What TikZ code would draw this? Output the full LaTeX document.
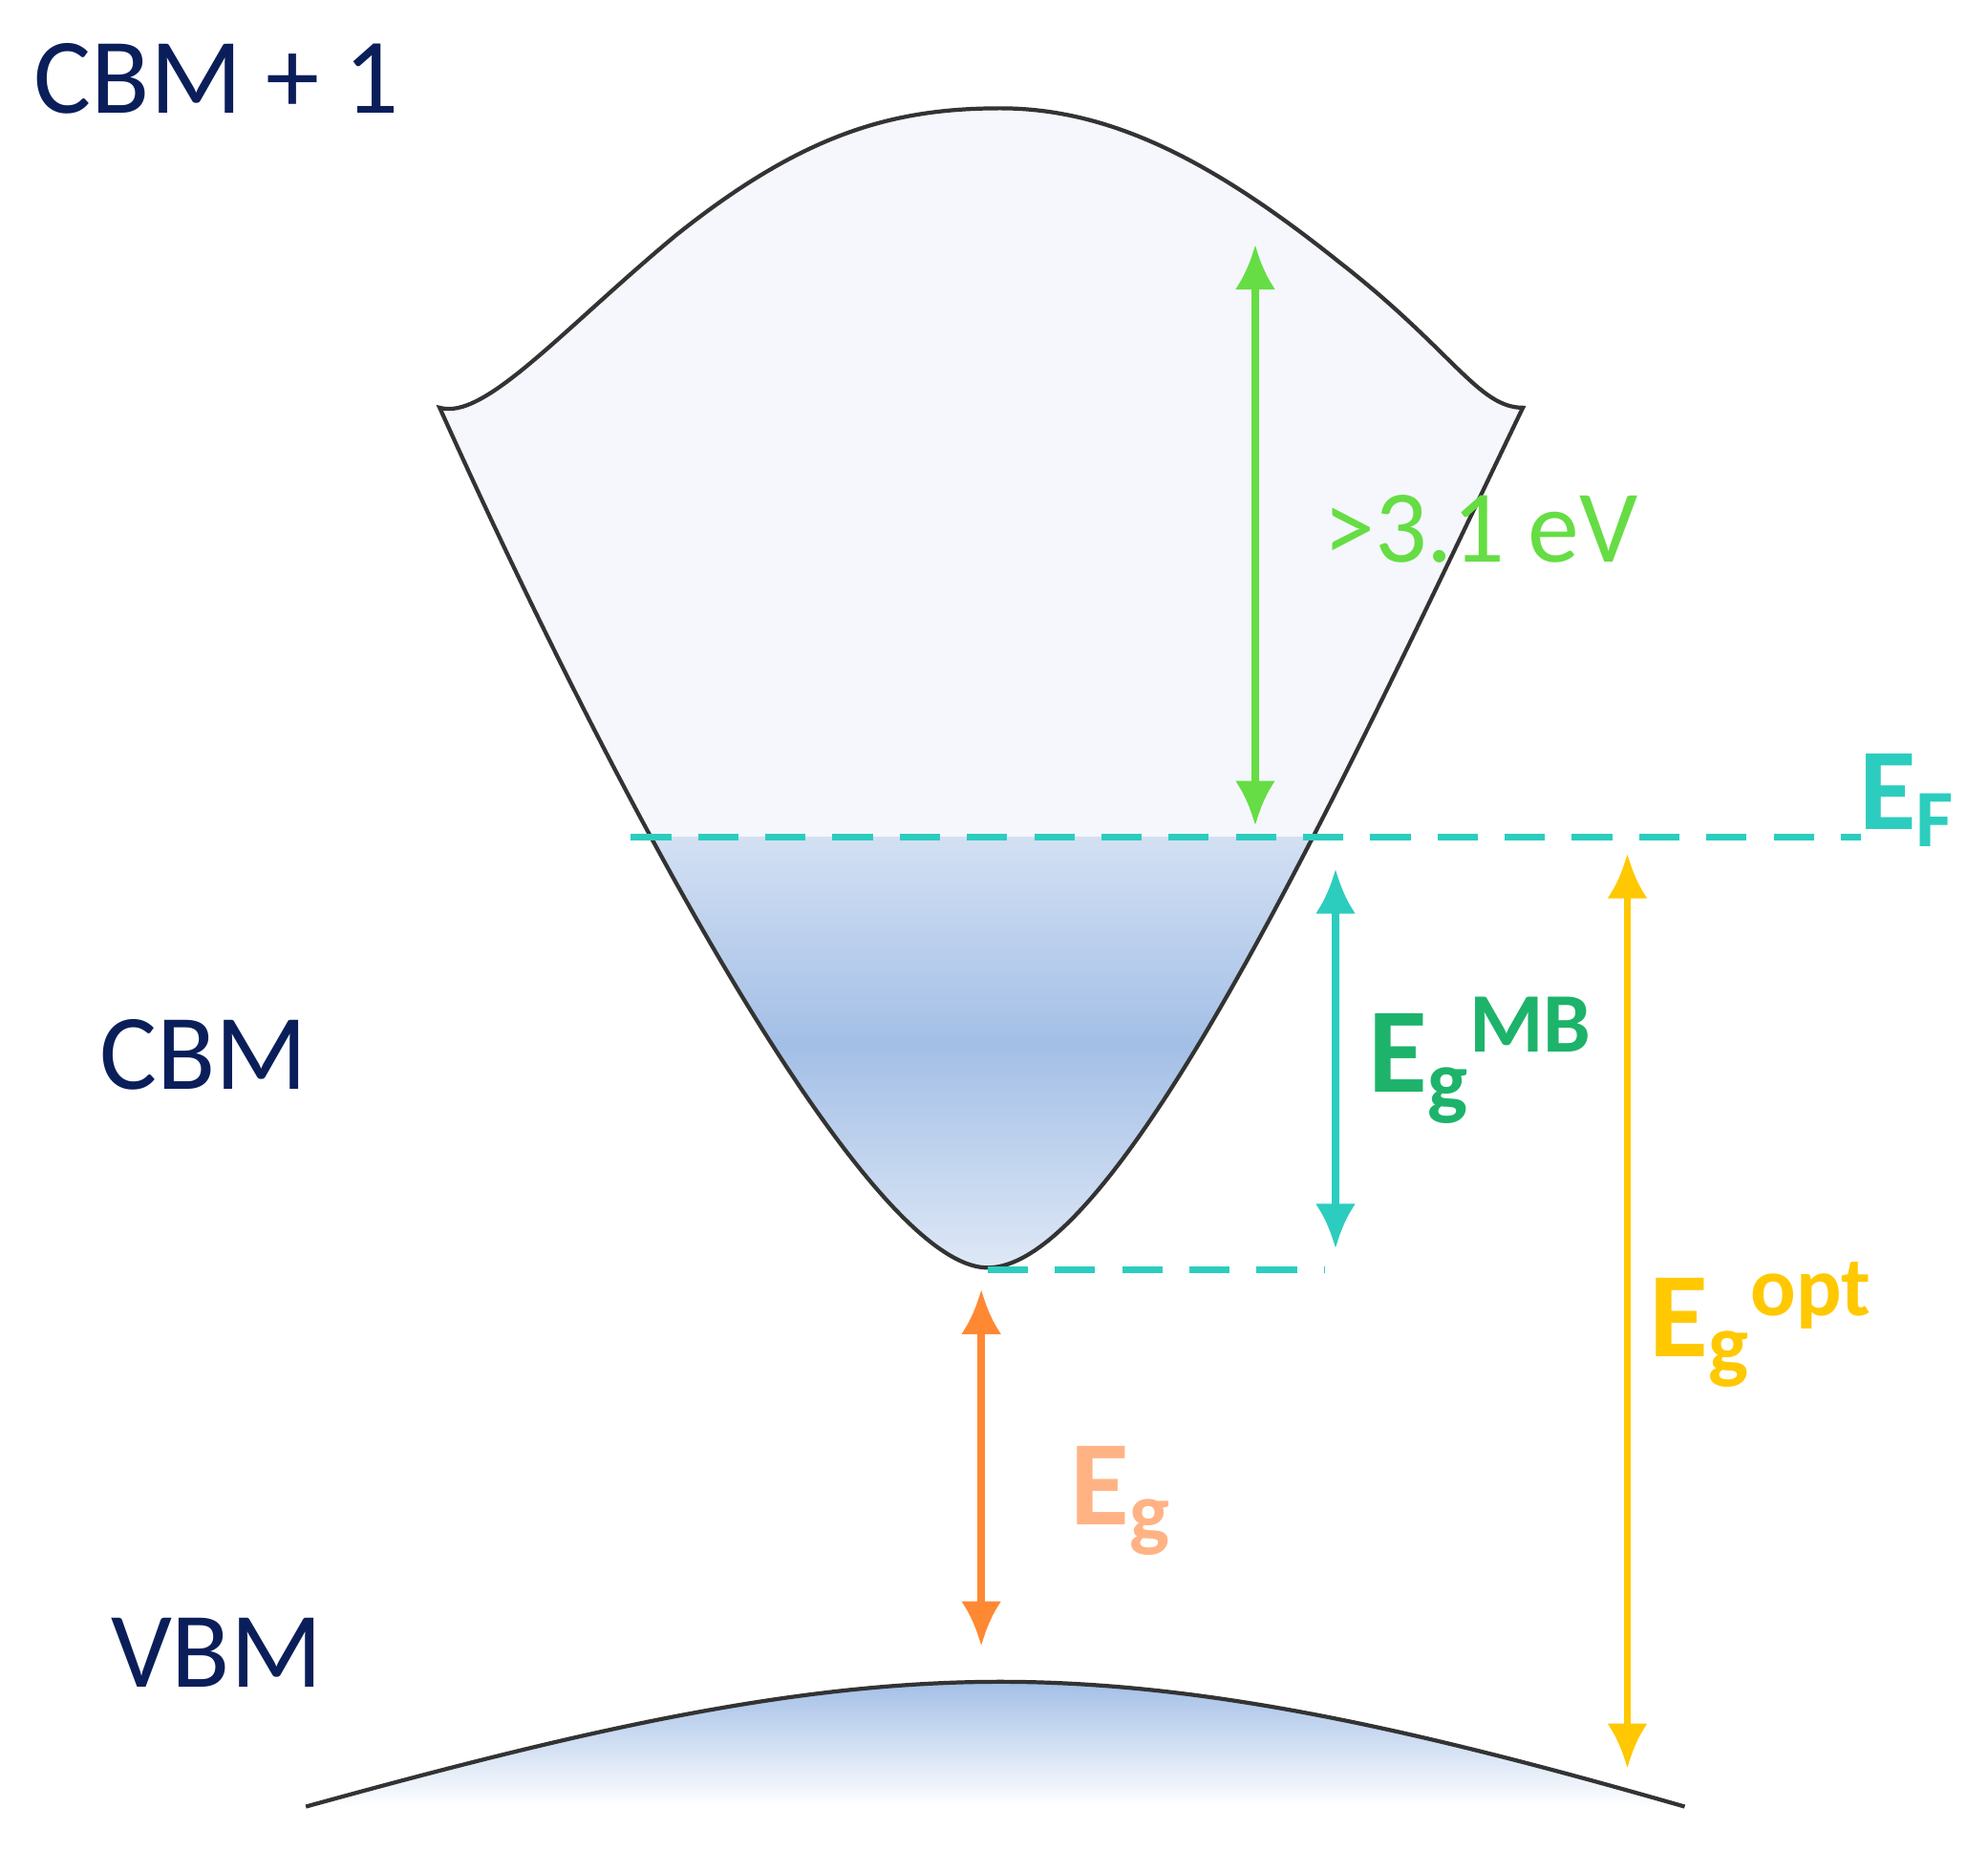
\documentclass[tikz,border=0pt]{standalone}
\usepackage{fontspec}
\setmainfont{Carlito}
\usetikzlibrary{arrows.meta}
\definecolor{navy}{HTML}{0A1E5A}
\definecolor{teal}{HTML}{2CCDBE}
\definecolor{lgreen}{HTML}{66DD44}
\definecolor{mgreen}{HTML}{1DB36B}
\definecolor{gold}{HTML}{FFC800}
\definecolor{orng}{HTML}{FF8833}
\definecolor{lorng}{HTML}{FFB385}
\definecolor{band}{HTML}{F5F7FC}
\definecolor{bl1}{HTML}{D3E0F3}
\definecolor{bl2}{HTML}{A3BFE6}
\begin{document}
\begin{tikzpicture}[x=0.01cm,y=-0.01cm,
  lab/.style={font=\fontsize{24}{28}\selectfont,text=navy},
  arr/.style={line width=1.6pt,{Latex[length=10pt,width=9pt]}-{Latex[length=10pt,width=9pt]}},
  tdash/.style={line width=1.5pt,teal,dash pattern=on 9pt off 6pt}]
\useasboundingbox (0,0) rectangle (1560,1452);
\def\cb{(345,320) .. controls (380,330) and (440,260) .. (530,185) .. controls (630,105) and (700,85) .. (785,85) .. controls (870,85) and (950,125) .. (1050,205) .. controls (1140,275) and (1160,320) .. (1195,320)
  .. controls (1060,600) and (880,995) .. (775,995) .. controls (680,995) and (480,620) .. cycle}
\begin{scope}
\clip \cb;
\fill[band] (300,50) rectangle (1250,657);
\shade[top color=bl1,bottom color=bl2] (300,657) rectangle (1250,820);
\shade[top color=bl2,bottom color=bl1!70] (300,820) rectangle (1250,1000);
\end{scope}
\draw[line width=0.9pt,black!80] \cb;
\def\vb{(240,1418) .. controls (450,1360) and (620,1320) .. (785,1320) .. controls (950,1320) and (1120,1360) .. (1322,1418)}
\begin{scope}
\clip \vb -- cycle;
\shade[top color=bl2,bottom color=white] (240,1320) rectangle (1322,1418);
\end{scope}
\draw[line width=0.9pt,black!80] \vb;
\coordinate (ef1) at (495,657); \coordinate (ef2) at (1460,657);
\coordinate (cm1) at (775,997); \coordinate (cm2) at (1040,997);
\draw[tdash] (ef1) -- (ef2);
\draw[tdash] (cm1) -- (cm2);
\coordinate (g1) at (985,192); \coordinate (g2) at (985,648);
\coordinate (t1) at (1048,682); \coordinate (t2) at (1048,980);
\coordinate (y1) at (1277,670); \coordinate (y2) at (1277,1388);
\coordinate (o1) at (770,1012); \coordinate (o2) at (770,1292);
\draw[arr,lgreen] (g1) -- (g2);
\draw[arr,teal] (t1) -- (t2);
\draw[arr,gold] (y1) -- (y2);
\draw[arr,orng] (o1) -- (o2);
\node[lab] (n1) at (170,62) {CBM + 1};
\node[lab] (n2) at (160,828) {CBM};
\node[lab] (n3) at (170,1297) {VBM};
\node[font=\fontsize{23}{26}\selectfont,text=lgreen] (v) at (1162,415) {>3.1 eV};
\node[font=\fontsize{26}{30}\selectfont\bfseries,text=teal] (ef) at (1497,628) {E$_{\mathbf F}$};
\node[font=\fontsize{27}{30}\selectfont\bfseries,text=mgreen] (mb) at (1162,832) {E$_{\mathbf g}$$^{\mathbf{MB}}$};
\node[font=\fontsize{27}{30}\selectfont\bfseries,text=gold] (op) at (1382,1040) {E$_{\mathbf g}$$^{\mathbf{opt}}$};
\node[font=\fontsize{27}{30}\selectfont\bfseries,text=lorng] (eg) at (880,1178) {E$_{\mathbf g}$};
\end{tikzpicture}
\end{document}
